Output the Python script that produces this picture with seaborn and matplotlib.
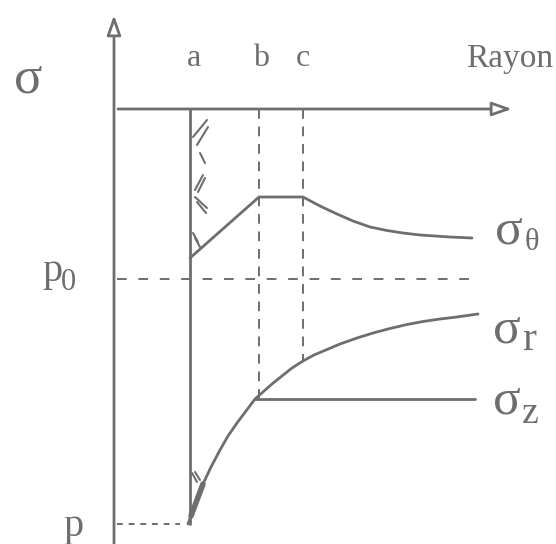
import matplotlib
matplotlib.use("Agg")
import matplotlib.pyplot as plt
import seaborn as sns
import pandas as pd

# diagram frame: x = distance from the sigma axis, y = stress (down = compression)
r_a, r_b, r_c = 76, 145, 189
p0 = -170
p = -415

sig_theta_x = [76, 145, 189, 206, 223, 239, 256, 273, 289, 306, 336, 358]
sig_theta_y = [-149, -88, -88, -97, -105, -112, -118, -121.5, -124, -126, -128, -129]

sig_r_x = [74, 77, 83, 89, 97, 106, 114, 123, 132, 141, 158, 178, 189, 200, 213,
           226, 243, 259, 276, 293, 309, 326, 343, 364]
sig_r_y = [-415, -407, -391, -375, -358, -341, -327, -314, -302, -290, -275, -259, -252, -246, -240.5,
           -235, -229, -224, -219.5, -215.5, -212.5, -210, -208, -205]

sig_z_x = [141, 361]
sig_z_y = [-290, -290]

# short hatch strokes along the wall r = a
hatch_x0 = [79, 83, 86, 81, 84, 81, 83, 79, 81, 78, 81]
hatch_y0 = [-28, -36, -44, -81, -83, -88, -93, -124, -129, -364, -363]
hatch_x1 = [93, 94, 91, 89, 91, 93, 92, 84, 86, 83, 86]
hatch_y1 = [-11, -18, -54, -66, -69, -99, -104, -133, -138, -373, -371]

sns.set_theme(style="white")
plt.rcParams["font.family"] = ["Liberation Serif", "DejaVu Serif"]
ink = "#6e6e6e"

fig = plt.figure(figsize=(5.56, 5.44), dpi=100)
ax = fig.add_axes([0, 0, 1, 1])
ax.set_xlim(-114, 442)
ax.set_ylim(-435, 109)
ax.axis("off")

# axes with open arrow heads
head = "-|>,head_length=1.0,head_width=0.35"
ax.annotate("", xy=(0, 94), xytext=(0, -440),
            arrowprops=dict(arrowstyle=head, ec=ink, fc="white", lw=2.0, shrinkA=0, shrinkB=0))
ax.annotate("", xy=(398, 0), xytext=(4, 0),
            arrowprops=dict(arrowstyle=head, ec=ink, fc="white", lw=2.0, shrinkA=0, shrinkB=0))

# wall at r = a
ax.plot([r_a, r_a], [0, p], color=ink, lw=2.0)

# dashed guides
ax.plot([3, 363], [p0, p0], color=ink, lw=1.4, dashes=(5, 6))
ax.plot([3, r_a - 10], [p, p], color=ink, lw=1.4, dashes=(3, 3))
ax.plot([r_b, r_b], [0, -290], color=ink, lw=1.4, dashes=(5, 4))
ax.plot([r_c, r_c], [0, -251], color=ink, lw=1.4, dashes=(5, 4))

# stress curves
curves = pd.concat([
    pd.DataFrame({"r": sig_theta_x, "s": sig_theta_y, "k": "theta"}),
    pd.DataFrame({"r": sig_r_x, "s": sig_r_y, "k": "r"}),
    pd.DataFrame({"r": sig_z_x, "s": sig_z_y, "k": "z"}),
])
sns.lineplot(data=curves, x="r", y="s", units="k", estimator=None, sort=False,
             color=ink, lw=2.0, ax=ax, legend=False)
# thicker pen stroke near the bottom of sigma_r
ax.plot(sig_r_x[1:4], sig_r_y[1:4], color=ink, lw=4.0, solid_capstyle="round")

for x0, y0, x1, y1 in zip(hatch_x0, hatch_y0, hatch_x1, hatch_y1):
    ax.plot([x0, x1], [y0, y1], color=ink, lw=1.5, solid_capstyle="round")

# text
ax.text(-86, 17, "σ", fontsize=38, color=ink, ha="center", va="baseline")
for lab, xr in zip(["a", "b", "c"], [80, 147, 189]):
    ax.text(xr, 43, lab, fontsize=23, color=ink, ha="center", va="baseline")
ax.text(439, 42, "Rayon", fontsize=24, color=ink, ha="right", va="baseline")
ax.text(-72, -172, "p", fontsize=29, color=ink, ha="left", va="baseline")
ax.text(-53, -181, "0", fontsize=22, color=ink, ha="left", va="baseline")
ax.text(-51, -427, "p", fontsize=29, color=ink, ha="left", va="baseline")

ax.text(381, -134, "σ", fontsize=37, color=ink, ha="left", va="baseline")
ax.text(411, -141, "θ", fontsize=22, color=ink, ha="left", va="baseline")
ax.text(379, -233, "σ", fontsize=37, color=ink, ha="left", va="baseline")
ax.text(408, -241, "r", fontsize=30, color=ink, ha="left", va="baseline")
ax.text(379, -304, "σ", fontsize=37, color=ink, ha="left", va="baseline")
ax.text(408, -314, "z", fontsize=27, color=ink, ha="left", va="baseline")

fig.savefig("out.png", dpi=100, facecolor="white")
